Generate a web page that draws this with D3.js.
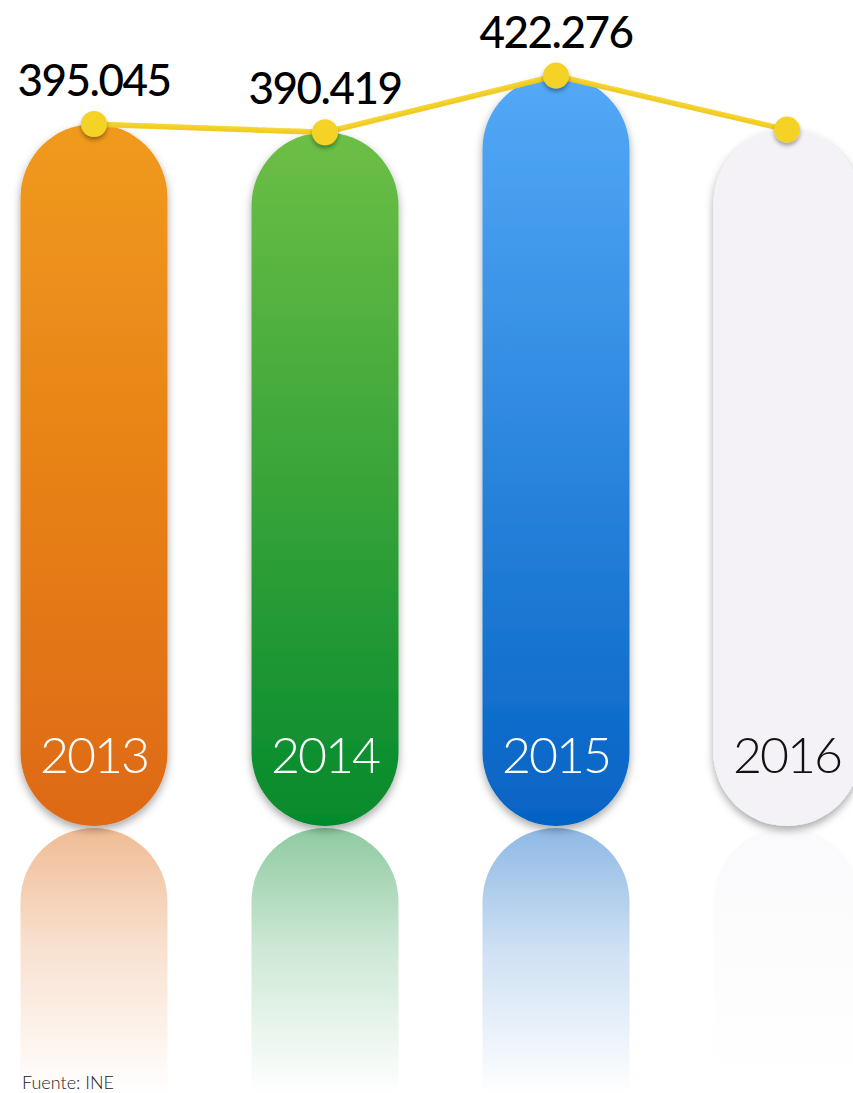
<!DOCTYPE html>
<html><head><meta charset="utf-8">
<script src="https://cdn.jsdelivr.net/npm/d3@7"></script>
<style>
html,body{margin:0;padding:0;background:#fff;}
svg{display:block;}
</style></head>
<body>
<svg id="chart" width="853" height="1093"></svg>
<script>
const years = ["2013", "2014", "2015", "2016"];
const values = [395.045, 390.419, 422.276, 391.9];
const valueLabels = ["395.045", "390.419", "422.276", ""];
const topColors = ["#f09a1d", "#6dbf46", "#53a9f7", "#f4f2f7"];
const bottomColors = ["#de6912", "#058a2d", "#0563c4", "#f4f2f7"];
const yearTextColors = ["#ffffff", "#ffffff", "#ffffff", "#111111"];
const source = "Fuente: INE";

const svg = d3.select("#chart");
const baseY = 826;
const barW = 147;

const x = d3.scalePoint().domain(years).range([94, 787]);
const y = d3.scaleLinear().domain([0, 400]).range([baseY, baseY - 400 * 1.777]);

const defs = svg.append("defs");
const sh = defs.append("filter").attr("id", "shadow").attr("x", "-20%").attr("y", "-10%").attr("width", "140%").attr("height", "125%");
sh.append("feDropShadow").attr("dx", 0).attr("dy", 4).attr("stdDeviation", 4).attr("flood-color", "#000").attr("flood-opacity", 0.35);
const sh2 = defs.append("filter").attr("id", "dotshadow").attr("x", "-50%").attr("y", "-50%").attr("width", "200%").attr("height", "200%");
sh2.append("feDropShadow").attr("dx", 0).attr("dy", 3).attr("stdDeviation", 2).attr("flood-color", "#000").attr("flood-opacity", 0.35);

years.forEach((yr, i) => {
  const g = defs.append("linearGradient").attr("id", "g" + i).attr("x1", 0).attr("y1", 0).attr("x2", 0).attr("y2", 1);
  g.append("stop").attr("offset", "0%").attr("stop-color", topColors[i]);
  g.append("stop").attr("offset", "100%").attr("stop-color", bottomColors[i]);
  const r = defs.append("linearGradient").attr("id", "r" + i).attr("gradientUnits", "userSpaceOnUse")
    .attr("x1", 0).attr("y1", baseY + 2).attr("x2", 0).attr("y2", baseY + 268);
  r.append("stop").attr("offset", "0%").attr("stop-color", bottomColors[i]).attr("stop-opacity", 0.45);
  r.append("stop").attr("offset", "45%").attr("stop-color", bottomColors[i]).attr("stop-opacity", 0.2);
  r.append("stop").attr("offset", "100%").attr("stop-color", bottomColors[i]).attr("stop-opacity", 0);
});

// reflections
svg.append("g").selectAll("rect").data(years).join("rect")
  .attr("x", d => x(d) - barW / 2)
  .attr("y", baseY + 2)
  .attr("width", barW)
  .attr("height", 600)
  .attr("rx", barW / 2)
  .attr("fill", (d, i) => `url(#r${i})`);

// bars
svg.append("g").selectAll("rect").data(years).join("rect")
  .attr("x", d => x(d) - barW / 2)
  .attr("y", (d, i) => y(values[i]))
  .attr("width", barW)
  .attr("height", (d, i) => baseY - y(values[i]))
  .attr("rx", barW / 2)
  .attr("fill", (d, i) => `url(#g${i})`)
  .attr("filter", "url(#shadow)");

// year labels
svg.append("g").selectAll("text").data(years).join("text")
  .attr("x", d => x(d))
  .attr("y", 773)
  .attr("text-anchor", "middle")
  .attr("font-family", "Lato, sans-serif")
  .attr("font-weight", 300)
  .attr("font-size", 50)
  .attr("letter-spacing", -2)
  .attr("fill", (d, i) => yearTextColors[i])
  .text(d => d);

// brush line
const pts = years.map((d, i) => [x(d), y(values[i])]);
const line = d3.line();
const lg = svg.append("g");
lg.append("path").attr("d", line(pts)).attr("fill", "none").attr("stroke", "#f3d02a").attr("stroke-width", 5).attr("stroke-linejoin", "round");
lg.append("path").attr("d", line(pts.map(p => [p[0], p[1] + 2]))).attr("fill", "none").attr("stroke", "#efc820").attr("stroke-width", 2).attr("opacity", 0.8);
lg.append("path").attr("d", line(pts.map(p => [p[0], p[1] - 2]))).attr("fill", "none").attr("stroke", "#f6da40").attr("stroke-width", 1.5).attr("opacity", 0.7).attr("stroke-dasharray", "14 3 6 2");

// dots
svg.append("g").selectAll("circle").data(years).join("circle")
  .attr("cx", d => x(d))
  .attr("cy", (d, i) => y(values[i]))
  .attr("r", 13)
  .attr("fill", "#f5d327")
  .attr("filter", "url(#dotshadow)");

// value labels
svg.append("g").selectAll("text").data(years).join("text")
  .attr("x", d => x(d))
  .attr("y", (d, i) => y(values[i]) - 28)
  .attr("text-anchor", "middle")
  .attr("font-family", "Lato, sans-serif")
  .attr("font-weight", 500)
  .attr("font-size", 44)
  .attr("letter-spacing", -1.5)
  .attr("fill", "#000")
  .text((d, i) => valueLabels[i]);

// source
svg.append("text")
  .attr("x", 22).attr("y", 1089)
  .attr("font-family", "Lato, sans-serif")
  .attr("font-weight", 300)
  .attr("font-size", 18)
  .attr("fill", "#222")
  .text(source);
</script>
</body></html>
